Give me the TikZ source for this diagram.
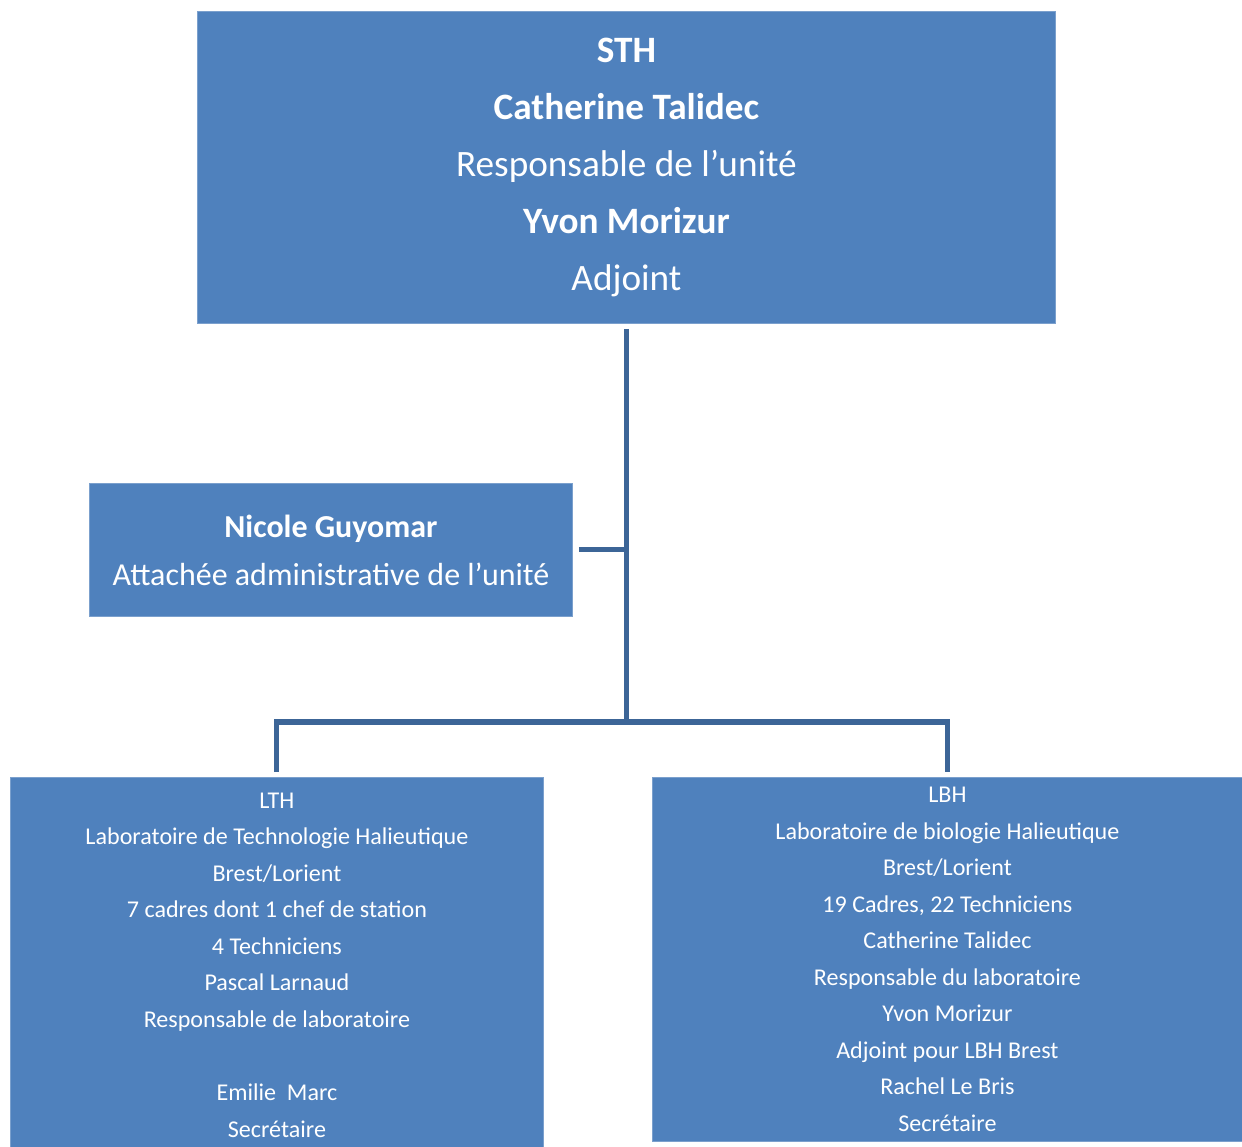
\documentclass[tikz,border=0pt]{standalone}
\usepackage{fontspec}
\setmainfont{Carlito}
\definecolor{boxblue}{HTML}{4F81BD}
\definecolor{linkblue}{HTML}{3C6597}
\tikzset{
  unitbox/.style={fill=boxblue, draw=boxblue!75!white, line width=0.5pt, text=white,
    align=center, inner sep=0pt, anchor=north west},
  link/.style={draw=linkblue, line width=2.9pt}
}
\begin{document}
\begin{tikzpicture}[x=0.02cm,y=-0.02cm]
    % one unit is one pixel of the reference
    \def\px{0.02cm}
    \useasboundingbox (0,0) rectangle (1242,1147);

    % head of the unit
    \node[unitbox, minimum width=858*\px, minimum height=312*\px,
      font=\fontsize{21.2}{32.4}\selectfont] (sth) at (197,11)
      {\textbf{STH}\\ \textbf{Catherine Talidec}\\ Responsable de l’unité\\
       \textbf{Yvon Morizur}\\ Adjoint};

    % administration
    \node[unitbox, minimum width=483*\px, minimum height=133*\px,
      font=\fontsize{18.2}{27.3}\selectfont] (admin) at (89,483)
      {\textbf{Nicole Guyomar}\\ Attachée administrative de l’unité};

    % the two laboratories
    \node[unitbox, minimum width=533*\px, minimum height=375*\px,
      font=\fontsize{13.7}{20.8}\selectfont] (lth) at (10,777)
      {LTH\\ Laboratoire de Technologie Halieutique\\ Brest/Lorient\\
       7 cadres dont 1 chef de station\\ 4 Techniciens\\ Pascal Larnaud\\
       Responsable de laboratoire\\[\baselineskip] Emilie\ \ Marc\\ Secrétaire};
    \node[unitbox, minimum width=590*\px, minimum height=364*\px,
      font=\fontsize{13.7}{20.8}\selectfont] (lbh) at (652,777)
      {LBH\\ Laboratoire de biologie Halieutique\\ Brest/Lorient\\
       19 Cadres, 22 Techniciens\\ Catherine Talidec\\ Responsable du laboratoire\\
       Yvon Morizur\\ Adjoint pour LBH Brest\\ Rachel Le Bris\\ Secrétaire};

    % connectors
    \coordinate (hub) at (sth.south |- 0,722);
    \draw[link] ([yshift=-0.1cm]sth.south) -- (hub);
    \draw[link] ([xshift=0.12cm]admin.east) -- (admin.east -| hub);
    \draw[link] ([yshift=0.1cm]lth.north) |- (hub) -| ([yshift=0.1cm]lbh.north);
\end{tikzpicture}
\end{document}
